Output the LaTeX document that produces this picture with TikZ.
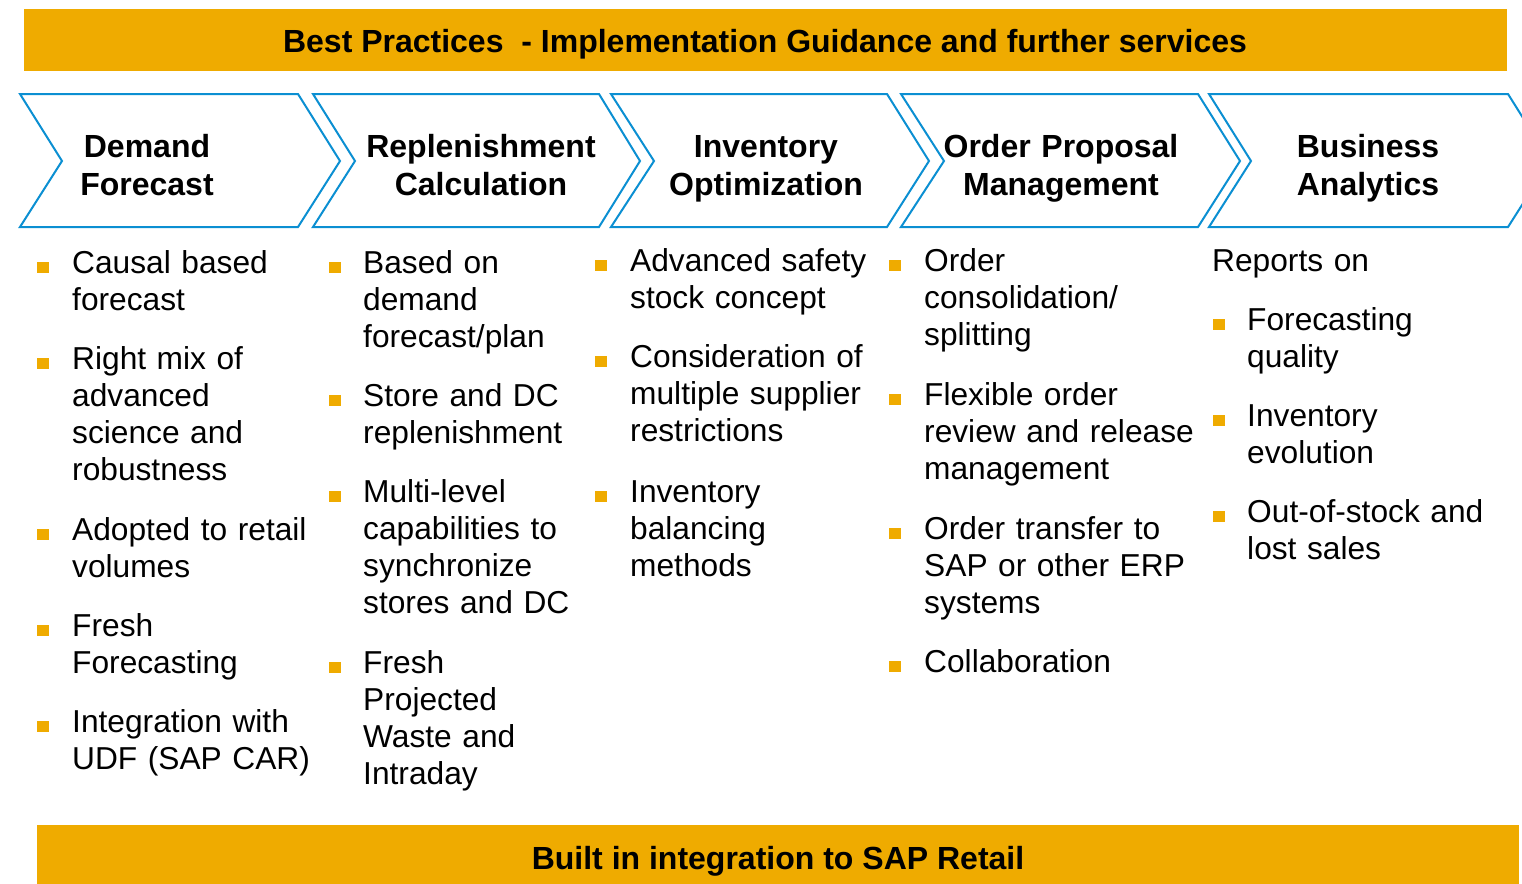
\documentclass[tikz,border=0pt]{standalone}
\usepackage{fontspec}
\setmainfont{Liberation Sans}
\usepackage{xcolor}
\definecolor{sapouro}{HTML}{EFAB00}
\definecolor{sapazul}{HTML}{0B8FD2}

\begin{document}
\begin{tikzpicture}[x=1pt,y=-1pt,
    faixa/.style={fill=sapouro,draw=none},
    seta/.style={draw=sapazul,line width=2pt,line join=miter},
    titulo/.style={font=\fontsize{32}{38}\selectfont\bfseries,inner sep=0pt},
    cabeca/.style={font=\fontsize{32}{38}\selectfont\bfseries,text width=300pt,align=center,inner sep=0pt,anchor=base},
    topico/.style={font=\fontsize{31.7}{37.3}\selectfont,text width=280pt,align=left,inner sep=0pt,anchor=base west},
    ponto/.style={fill=sapouro,minimum width=12pt,minimum height=11pt,inner sep=0pt,anchor=south west}
  ]
    \clip (0,0) rectangle (1522,883);
    \useasboundingbox (0,0) rectangle (1522,883);

    % faixas de cima e de baixo
    \fill[faixa] (24,9) rectangle (1507,71);
    \node[titulo] (topo) at (765,44) {Best Practices\ \ - Implementation Guidance and further services};
    \fill[faixa] (37,825) rectangle (1519,890);
    \node[titulo] (base) at (778,861) {Built in integration to SAP Retail};

    % setas
    \draw[seta] (20,94) -- (298,94) -- (340,161) -- (298,227) -- (20,227) -- (62,161) -- cycle;
    \draw[seta] (313,94) -- (599,94) -- (640,161) -- (599,227) -- (313,227) -- (355,161) -- cycle;
    \draw[seta] (611,94) -- (887,94) -- (929,161) -- (887,227) -- (611,227) -- (654,161) -- cycle;
    \draw[seta] (901,94) -- (1198,94) -- (1240,161) -- (1198,227) -- (901,227) -- (944,161) -- cycle;
    \draw[seta] (1209,94) -- (1508,94) -- (1550,161) -- (1508,227) -- (1209,227) -- (1251,161) -- cycle;

    \node[cabeca] (demanda) at (147,157) {Demand\\Forecast};
    \node[cabeca] (reposicao) at (481,157) {Replenishment\\Calculation};
    \node[cabeca] (estoque) at (766,157) {Inventory\\Optimization};
    \node[cabeca] (pedido) at (1061,157) {Order Proposal\\Management};
    \node[cabeca] (analise) at (1368,157) {Business\\Analytics};

    % coluna 1
    \node[topico] (d1) at (72,273) {Causal based\\forecast};
    \node[topico] (d2) at (72,369) {Right mix of\\advanced\\science and\\robustness};
    \node[topico] (d3) at (72,540) {Adopted to retail\\volumes};
    \node[topico] (d4) at (72,636) {Fresh\\Forecasting};
    \node[topico] (d5) at (72,732) {Integration with\\UDF (SAP CAR)};
    \foreach \n in {d1,d2,d3,d4,d5}
        \node[ponto] at ([xshift=-35pt]\n.base west) {};

    % coluna 2
    \node[topico] (r1) at (363,273) {Based on\\demand\\forecast/plan};
    \node[topico] (r2) at (363,406) {Store and DC\\replenishment};
    \node[topico] (r3) at (363,502) {Multi-level\\capabilities to\\synchronize\\stores and DC};
    \node[topico] (r4) at (363,673) {Fresh\\Projected\\Waste and\\Intraday};
    \foreach \n in {r1,r2,r3,r4}
        \node[ponto] at ([xshift=-34pt]\n.base west) {};

    % coluna 3
    \node[topico] (e1) at (630,271) {Advanced safety\\stock concept};
    \node[topico] (e2) at (630,367) {Consideration of\\multiple supplier\\restrictions};
    \node[topico] (e3) at (630,502) {Inventory\\balancing\\methods};
    \foreach \n in {e1,e2,e3}
        \node[ponto] at ([xshift=-35pt]\n.base west) {};

    % coluna 4
    \node[topico] (p1) at (924,271) {Order\\consolidation/\\splitting};
    \node[topico] (p2) at (924,405) {Flexible order\\review and release\\management};
    \node[topico] (p3) at (924,539) {Order transfer to\\SAP or other ERP\\systems};
    \node[topico] (p4) at (924,672) {Collaboration};
    \foreach \n in {p1,p2,p3,p4}
        \node[ponto] at ([xshift=-35pt]\n.base west) {};

    % coluna 5
    \node[topico] (a0) at (1212,271) {Reports on};
    \node[topico] (a1) at (1247,330) {Forecasting\\quality};
    \node[topico] (a2) at (1247,426) {Inventory\\evolution};
    \node[topico] (a3) at (1247,522) {Out-of-stock and\\lost sales};
    \foreach \n in {a1,a2,a3}
        \node[ponto] at ([xshift=-34pt]\n.base west) {};
\end{tikzpicture}
\end{document}
